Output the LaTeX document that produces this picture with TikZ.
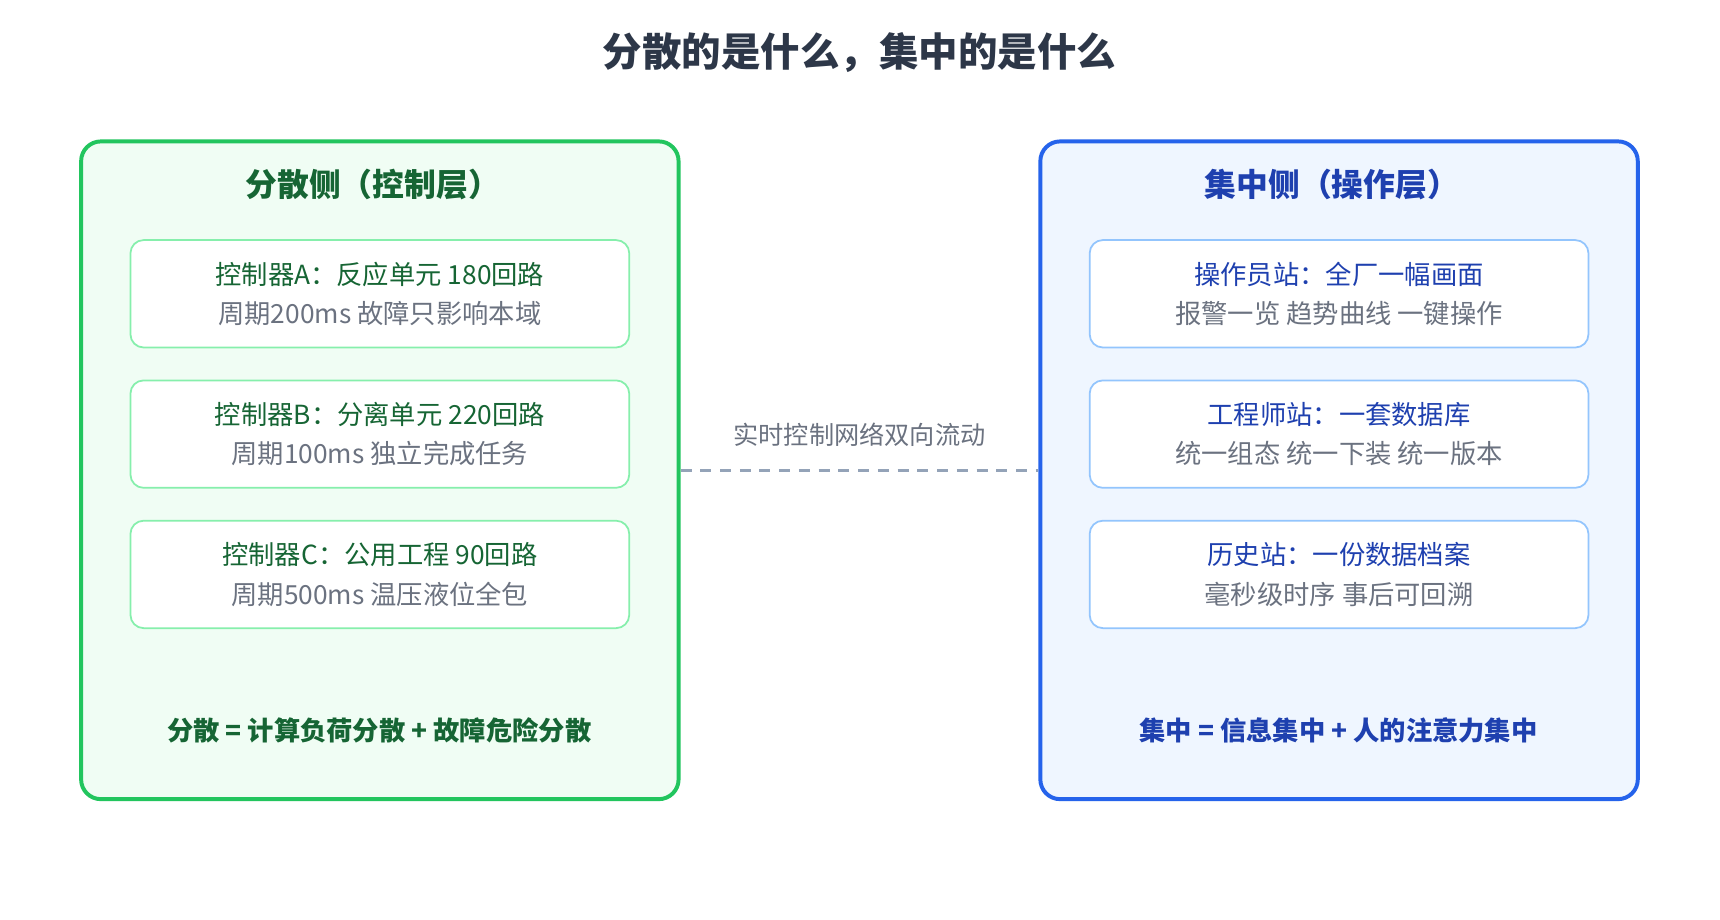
\documentclass[tikz,border=0pt]{standalone}
\usepackage{fontspec}
\setmainfont{Noto Sans CJK SC}
\begin{document}
\begin{tikzpicture}[x=0.5pt,y=-0.5pt,
 panel/.style={draw,line width=1.8pt,rounded corners=9pt,minimum width=545*0.5pt,minimum height=600*0.5pt},
 item/.style={draw,line width=0.8pt,rounded corners=6pt,fill=white,minimum width=455*0.5pt,minimum height=98*0.5pt,align=center,font=\fontsize{12}{18}\selectfont},
 head/.style={font=\fontsize{14.5}{16}\selectfont\bfseries},
 foot/.style={font=\fontsize{12}{14}\selectfont\bfseries}]
\definecolor{gB}{HTML}{22C55E}\definecolor{gF}{HTML}{F0FDF4}\definecolor{gI}{HTML}{86EFAC}\definecolor{gT}{HTML}{166534}
\definecolor{bB}{HTML}{2563EB}\definecolor{bF}{HTML}{EFF6FF}\definecolor{bI}{HTML}{93C5FD}\definecolor{bT}{HTML}{1E40AF}
\definecolor{gry}{HTML}{6B7280}\definecolor{ttl}{HTML}{2D3748}\definecolor{dsh}{HTML}{94A3B8}
\useasboundingbox[fill=white] (0,0) rectangle (1569,839);
\node[font=\fontsize{18}{20}\selectfont\bfseries,text=ttl] (title) at (784,48) {分散的是什么，集中的是什么};
\node[panel,draw=gB,fill=gF] (L) at (346.5,429) {};
\node[panel,draw=bB,fill=bF] (R) at (1221.5,429) {};
\node[head,text=gT] (lh) at (340,168) {分散侧（控制层）};
\node[head,text=bT] (rh) at (1215,168) {集中侧（操作层）};
\node[item,draw=gI] (a) at (346.5,268) {\textcolor{gT}{控制器A：反应单元 180回路}\\\textcolor{gry}{周期200ms 故障只影响本域}};
\node[item,draw=gI] (b) at (346.5,396) {\textcolor{gT}{控制器B：分离单元 220回路}\\\textcolor{gry}{周期100ms 独立完成任务}};
\node[item,draw=gI] (c) at (346.5,524) {\textcolor{gT}{控制器C：公用工程 90回路}\\\textcolor{gry}{周期500ms 温压液位全包}};
\node[item,draw=bI] (d) at (1221.5,268) {\textcolor{bT}{操作员站：全厂一幅画面}\\\textcolor{gry}{报警一览 趋势曲线 一键操作}};
\node[item,draw=bI] (e) at (1221.5,396) {\textcolor{bT}{工程师站：一套数据库}\\\textcolor{gry}{统一组态 统一下装 统一版本}};
\node[item,draw=bI] (f) at (1221.5,524) {\textcolor{bT}{历史站：一份数据档案}\\\textcolor{gry}{毫秒级时序 事后可回溯}};
\node[foot,text=gT] (lf) at (346,666) {分散 = 计算负荷分散 + 故障危险分散};
\node[foot,text=bT] (rf) at (1221,666) {集中 = 信息集中 + 人的注意力集中};
\draw[dsh,line width=1.5pt,dash pattern=on 5pt off 4pt] (L.east) -- (R.west);
\node[font=\fontsize{11.5}{13}\selectfont,text=gry] (lbl) at (784,397) {实时控制网络双向流动};
\end{tikzpicture}
\end{document}
